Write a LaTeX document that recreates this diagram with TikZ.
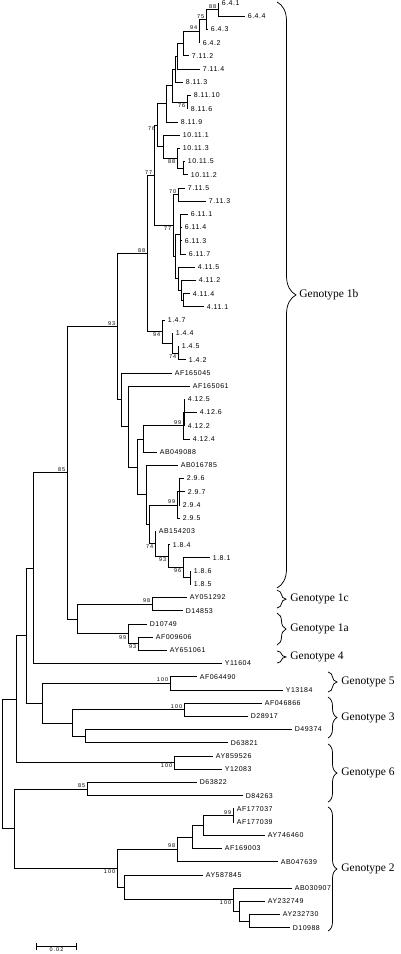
\documentclass[tikz,border=0pt]{standalone}
\usepackage{fontspec}
\setmainfont{Liberation Serif}
\newfontfamily\taxfont[LetterSpace=7]{Liberation Sans}
\newfontfamily\bootfont[LetterSpace=18]{Liberation Sans}
\usetikzlibrary{decorations.pathreplacing}
\begin{document}
\begin{tikzpicture}[
    x=1pt, y=-13.21pt, line width=0.75pt,
    taxon/.style={anchor=west, inner xsep=2.5pt, inner ysep=0pt, font=\taxfont\fontsize{7}{8}\selectfont},
    boot/.style={inner xsep=1.5pt, inner ysep=1pt, font=\bootfont\fontsize{5.5}{6}\selectfont},
    gbrace/.style={decorate, decoration={brace, amplitude=#1}},
    glabel/.style={anchor=west, inner sep=0pt, font=\fontsize{11.5}{13}\selectfont}
]
    \useasboundingbox (0,-0.227) rectangle (400,71.99);

    \node[taxon] at (219,0) (t1) {6.4.1};
    \node[taxon] at (245,1) (t2) {6.4.4};
    \node[taxon] at (208,2) (t3) {6.4.3};
    \node[taxon] at (200,3) (t4) {6.4.2};
    \node[taxon] at (189,4) (t5) {7.11.2};
    \node[taxon] at (200,5) (t6) {7.11.4};
    \node[taxon] at (183,6) (t7) {8.11.3};
    \node[taxon] at (191,7) (t8) {8.11.10};
    \node[taxon] at (188,8) (t9) {8.11.6};
    \node[taxon] at (178,9) (t10) {8.11.9};
    \node[taxon] at (180,10) (t11) {10.11.1};
    \node[taxon] at (180,11) (t12) {10.11.3};
    \node[taxon] at (185,12) (t13) {10.11.5};
    \node[taxon] at (188,13) (t14) {10.11.2};
    \node[taxon] at (185,14) (t15) {7.11.5};
    \node[taxon] at (206,15) (t16) {7.11.3};
    \node[taxon] at (188,16) (t17) {6.11.1};
    \node[taxon] at (182,17) (t18) {6.11.4};
    \node[taxon] at (182,18) (t19) {6.11.3};
    \node[taxon] at (186,19) (t20) {6.11.7};
    \node[taxon] at (195,20) (t21) {4.11.5};
    \node[taxon] at (196,21) (t22) {4.11.2};
    \node[taxon] at (190,22) (t23) {4.11.4};
    \node[taxon] at (204,23) (t24) {4.11.1};
    \node[taxon] at (165,24) (t25) {1.4.7};
    \node[taxon] at (173,25) (t26) {1.4.4};
    \node[taxon] at (179,26) (t27) {1.4.5};
    \node[taxon] at (186,27) (t28) {1.4.2};
    \node[taxon] at (172,28) (t29) {AF165045};
    \node[taxon] at (190,29) (t30) {AF165061};
    \node[taxon] at (185,30) (t31) {4.12.5};
    \node[taxon] at (197,31) (t32) {4.12.6};
    \node[taxon] at (185,32) (t33) {4.12.2};
    \node[taxon] at (190,33) (t34) {4.12.4};
    \node[taxon] at (157,34) (t35) {AB049088};
    \node[taxon] at (178,35) (t36) {AB016785};
    \node[taxon] at (184,36) (t37) {2.9.6};
    \node[taxon] at (185,37) (t38) {2.9.7};
    \node[taxon] at (180,38) (t39) {2.9.4};
    \node[taxon] at (180,39) (t40) {2.9.5};
    \node[taxon] at (156,40) (t41) {AB154203};
    \node[taxon] at (170,41) (t42) {1.8.4};
    \node[taxon] at (210,42) (t43) {1.8.1};
    \node[taxon] at (191,43) (t44) {1.8.6};
    \node[taxon] at (191,44) (t45) {1.8.5};
    \node[taxon] at (187,45) (t46) {AY051292};
    \node[taxon] at (183,46) (t47) {D14853};
    \node[taxon] at (147,47) (t48) {D10749};
    \node[taxon] at (153,48) (t49) {AF009606};
    \node[taxon] at (167,49) (t50) {AY651061};
    \node[taxon] at (222,50) (t51) {Y11604};
    \node[taxon] at (197,51) (t52) {AF064490};
    \node[taxon] at (283,52) (t53) {Y13184};
    \node[taxon] at (262,53) (t54) {AF046866};
    \node[taxon] at (248,54) (t55) {D28917};
    \node[taxon] at (292,55) (t56) {D49374};
    \node[taxon] at (228,56) (t57) {D63821};
    \node[taxon] at (213,57) (t58) {AY859526};
    \node[taxon] at (222,58) (t59) {Y12083};
    \node[taxon] at (197,59) (t60) {D63822};
    \node[taxon] at (243,60) (t61) {D84263};
    \node[taxon] at (234,61) (t62) {AF177037};
    \node[taxon] at (234,62) (t63) {AF177039};
    \node[taxon] at (265,63) (t64) {AY746460};
    \node[taxon] at (222,64) (t65) {AF169003};
    \node[taxon] at (278,65) (t66) {AB047639};
    \node[taxon] at (203,66) (t67) {AY587845};
    \node[taxon] at (292,67) (t68) {AB030907};
    \node[taxon] at (265,68) (t69) {AY232749};
    \node[taxon] at (280,69) (t70) {AY232730};
    \node[taxon] at (290,70) (t71) {D10988};

    \coordinate (n1) at (218,0.5);
    \coordinate (n2) at (206,1.25);
    \coordinate (n3) at (199,2.125);
    \coordinate (n4) at (183,3.06);
    \coordinate (n5) at (177,4.03);
    \coordinate (n6) at (175,5.016);
    \coordinate (n7) at (187,7.5);
    \coordinate (n8) at (172,6.258);
    \coordinate (n9) at (166,7.629);
    \coordinate (n10) at (183,12.5);
    \coordinate (n11) at (177,11.75);
    \coordinate (n12) at (163,10.875);
    \coordinate (n13) at (157,9.252);
    \coordinate (n14) at (178,14.5);
    \coordinate (n15) at (180,17.5);
    \coordinate (n16) at (183,22.5);
    \coordinate (n17) at (181,21.75);
    \coordinate (n18) at (178,20.875);
    \coordinate (n19) at (175,19.19);
    \coordinate (n20) at (173,16.84);
    \coordinate (n21) at (154,13.05);
    \coordinate (n22) at (178,26.5);
    \coordinate (n23) at (172,25.75);
    \coordinate (n24) at (162,24.875);
    \coordinate (n25) at (147,18.96);
    \coordinate (n26) at (184,31);
    \coordinate (n27) at (183,32);
    \coordinate (n28) at (143,33);
    \coordinate (n29) at (179,37);
    \coordinate (n30) at (177,38);
    \coordinate (n31) at (190,43.5);
    \coordinate (n32) at (183,42.75);
    \coordinate (n33) at (168,41.875);
    \coordinate (n34) at (155,40.94);
    \coordinate (n35) at (149,39.47);
    \coordinate (n36) at (146,37.23);
    \coordinate (n37) at (137,35.12);
    \coordinate (n38) at (128,32.06);
    \coordinate (n39) at (121,30.03);
    \coordinate (n40) at (117,24.5);
    \coordinate (n41) at (152,45.5);
    \coordinate (n42) at (138,48.5);
    \coordinate (n43) at (128,47.75);
    \coordinate (n44) at (77,46.625);
    \coordinate (n45) at (67,35.56);
    \coordinate (n46) at (33,42.78);
    \coordinate (n47) at (170,51.5);
    \coordinate (n48) at (184,53.5);
    \coordinate (n49) at (85,55.5);
    \coordinate (n50) at (72,54.5);
    \coordinate (n51) at (42,53);
    \coordinate (n52) at (26,47.89);
    \coordinate (n53) at (174,57.5);
    \coordinate (n54) at (16,52.7);
    \coordinate (n55) at (87,59.5);
    \coordinate (n56) at (233,61.5);
    \coordinate (n57) at (203,62.25);
    \coordinate (n58) at (192,63.125);
    \coordinate (n59) at (177,64.06);
    \coordinate (n60) at (249,69.5);
    \coordinate (n61) at (239,68.75);
    \coordinate (n62) at (233,67.875);
    \coordinate (n63) at (124,66.94);
    \coordinate (n64) at (117,65.5);
    \coordinate (n65) at (14,62.5);
    \coordinate (n66) at (2,57.6);

    \draw (n1) |- (t1);
    \draw (n1) |- (t2);
    \draw (n2) |- node[boot, at end, above left] {88} (n1);
    \draw (n2) |- (t3);
    \draw (n3) |- node[boot, at end, above left] {75} (n2);
    \draw (n3) |- (t4);
    \draw (n4) |- node[boot, at end, above left] {94} (n3);
    \draw (n4) |- (t5);
    \draw (n5) |- (n4);
    \draw (n5) |- (t6);
    \draw (n6) |- (n5);
    \draw (n6) |- (t7);
    \draw (n7) |- (t8);
    \draw (n7) |- (t9);
    \draw (n8) |- (n6);
    \draw (n8) |- node[boot, at end, below left] {76} (n7);
    \draw (n9) |- (n8);
    \draw (n9) |- (t10);
    \draw (n10) |- (t13);
    \draw (n10) |- (t14);
    \draw (n11) |- (t12);
    \draw (n11) |- (n10);
    \draw (n12) |- (t11);
    \draw (n12) |- node[boot, at end, below left] {88} (n11);
    \draw (n13) |- (n9);
    \draw (n13) |- (n12);
    \draw (n14) |- (t15);
    \draw (n14) |- (t16);
    \draw (n15) |- (t17);
    \draw (n15) |- (t18);
    \draw (n15) |- (t19);
    \draw (n15) |- (t20);
    \draw (n16) |- (t23);
    \draw (n16) |- (t24);
    \draw (n17) |- (t22);
    \draw (n17) |- (n16);
    \draw (n18) |- (t21);
    \draw (n18) |- (n17);
    \draw (n19) |- (n15);
    \draw (n19) |- (n18);
    \draw (n20) |- node[boot, at end, above left] {70} (n14);
    \draw (n20) |- (n19);
    \draw (n21) |- node[boot, at end, below left] {76} (n13);
    \draw (n21) |- node[boot, at end, below left] {77} (n20);
    \draw (n22) |- (t27);
    \draw (n22) |- (t28);
    \draw (n23) |- (t26);
    \draw (n23) |- node[boot, at end, below left] {74} (n22);
    \draw (n24) |- (t25);
    \draw (n24) |- (n23);
    \draw (n25) |- node[boot, at end, above left] {77} (n21);
    \draw (n25) |- node[boot, at end, below left] {94} (n24);
    \draw (n26) |- (t31);
    \draw (n26) |- (t32);
    \draw (n26) |- (t33);
    \draw (n27) |- (n26);
    \draw (n27) |- (t34);
    \draw (n28) |- node[boot, at end, above left] {99} (n27);
    \draw (n28) |- (t35);
    \draw (n29) |- (t37);
    \draw (n29) |- (t38);
    \draw (n29) |- (t39);
    \draw (n30) |- (n29);
    \draw (n30) |- (t40);
    \draw (n31) |- (t44);
    \draw (n31) |- (t45);
    \draw (n32) |- (t43);
    \draw (n32) |- (n31);
    \draw (n33) |- (t42);
    \draw (n33) |- node[boot, at end, below left] {96} (n32);
    \draw (n34) |- (t41);
    \draw (n34) |- node[boot, at end, below left] {93} (n33);
    \draw (n35) |- node[boot, at end, above left] {99} (n30);
    \draw (n35) |- node[boot, at end, below left] {74} (n34);
    \draw (n36) |- (t36);
    \draw (n36) |- (n35);
    \draw (n37) |- (n28);
    \draw (n37) |- (n36);
    \draw (n38) |- (t30);
    \draw (n38) |- (n37);
    \draw (n39) |- (t29);
    \draw (n39) |- (n38);
    \draw (n40) |- node[boot, at end, above left] {88} (n25);
    \draw (n40) |- (n39);
    \draw (n41) |- (t46);
    \draw (n41) |- (t47);
    \draw (n42) |- (t49);
    \draw (n42) |- (t50);
    \draw (n43) |- (t48);
    \draw (n43) |- node[boot, at end, below left] {93} (n42);
    \draw (n44) |- node[boot, at end, above left] {98} (n41);
    \draw (n44) |- node[boot, at end, below left] {99} (n43);
    \draw (n45) |- node[boot, at end, above left] {93} (n40);
    \draw (n45) |- (n44);
    \draw (n46) |- node[boot, at end, above left] {85} (n45);
    \draw (n46) |- (t51);
    \draw (n47) |- (t52);
    \draw (n47) |- (t53);
    \draw (n48) |- (t54);
    \draw (n48) |- (t55);
    \draw (n49) |- (t56);
    \draw (n49) |- (t57);
    \draw (n50) |- node[boot, at end, above left] {100} (n48);
    \draw (n50) |- (n49);
    \draw (n51) |- node[boot, at end, above left] {100} (n47);
    \draw (n51) |- (n50);
    \draw (n52) |- (n46);
    \draw (n52) |- (n51);
    \draw (n53) |- (t58);
    \draw (n53) |- (t59);
    \draw (n54) |- (n52);
    \draw (n54) |- node[boot, at end, below left] {100} (n53);
    \draw (n55) |- (t60);
    \draw (n55) |- (t61);
    \draw (n56) |- (t62);
    \draw (n56) |- (t63);
    \draw (n57) |- node[boot, at end, above left] {99} (n56);
    \draw (n57) |- (t64);
    \draw (n58) |- (n57);
    \draw (n58) |- (t65);
    \draw (n59) |- (n58);
    \draw (n59) |- (t66);
    \draw (n60) |- (t70);
    \draw (n60) |- (t71);
    \draw (n61) |- (t69);
    \draw (n61) |- (n60);
    \draw (n62) |- (t68);
    \draw (n62) |- (n61);
    \draw (n63) |- (t67);
    \draw (n63) |- node[boot, at end, below left] {100} (n62);
    \draw (n64) |- node[boot, at end, above left] {98} (n59);
    \draw (n64) |- (n63);
    \draw (n65) |- node[boot, at end, above left] {85} (n55);
    \draw (n65) |- node[boot, at end, below left] {100} (n64);
    \draw (n66) |- (n54);
    \draw (n66) |- (n65);

    \draw[gbrace=19pt] (277,-0.08) -- node[glabel, xshift=22pt] (g1b) {Genotype 1b} (277,44.28);
    \draw[gbrace=9pt] (277,44.45) -- node[glabel, xshift=13pt] (g1c) {Genotype 1c} (277,45.8);
    \draw[gbrace=9pt] (277,46.18) -- node[glabel, xshift=13pt] (g1a) {Genotype 1a} (277,48.6);
    \draw[gbrace=9pt] (277,49.05) -- node[glabel, xshift=13pt] (g4) {Genotype 4} (277,49.96);
    \draw[gbrace=9pt] (328,50.64) -- node[glabel, xshift=13pt] (g5) {Genotype 5} (328,52.16);
    \draw[gbrace=9pt] (328,52.54) -- node[glabel, xshift=13pt] (g3) {Genotype 3} (328,55.64);
    \draw[gbrace=9pt] (328,56.09) -- node[glabel, xshift=13pt] (g6) {Genotype 6} (328,60.49);
    \draw[gbrace=9pt] (328,60.86) -- node[glabel, xshift=13pt] (g2) {Genotype 2} (328,70.25);

    \coordinate (b1) at (36,71.39);
    \coordinate (b2) at (77,71.39);
    \draw[|-|] (b1) -- node[boot, below, inner ysep=1.5pt] (bar) {0.02} (b2);
\end{tikzpicture}
\end{document}
